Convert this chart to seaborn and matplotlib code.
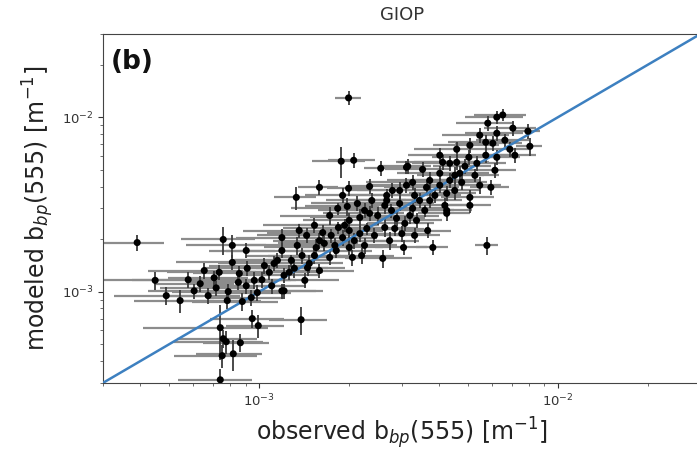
import numpy as np
import matplotlib
matplotlib.use("Agg")
import matplotlib.pyplot as plt
import seaborn as sns

# observed / modeled b_bp(555) in units of 1e-3 m^-1
obs = [0.390, 0.448, 0.488, 0.543, 0.578, 0.634, 0.674, 0.734, 0.757, 0.812,
       0.904, 0.812, 0.706, 0.717, 0.857, 0.911, 0.851, 0.904, 0.787, 0.781,
       0.877, 0.940, 1.02, 1.12, 1.08, 0.947, 0.992, 1.38, 0.740, 0.775,
       0.864, 0.751, 0.818, 0.740, 0.757, 1.21, 1.99, 1.88, 2.07, 2.55,
       3.11, 1.59, 1.99, 2.34, 5.78, 3.81, 3.04, 1.33, 6.53, 6.24,
       5.82, 7.06, 7.93, 8.05, 6.90, 6.24, 6.05, 5.73, 4.58, 5.03,
       5.73, 6.24, 6.15, 5.35, 4.58, 4.11, 3.14, 3.52, 5.96, 5.07,
       5.07, 4.34, 4.02, 4.69, 3.26, 2.79, 3.63, 4.24, 4.24, 3.72,
       2.95, 2.67, 3.26, 4.24, 3.66, 3.07, 3.36, 4.34, 1.90, 3.11,
       1.83, 1.97, 2.13, 2.67, 2.63, 2.34, 2.17, 2.00, 1.84, 1.63,
       1.44, 1.19, 1.19, 1.74, 1.90, 2.17, 2.29, 2.63, 2.88, 3.00,
       2.59, 2.00, 1.81, 2.05, 1.72, 1.55, 1.39, 1.28, 1.15, 0.962,
       1.19, 1.47, 1.45, 1.59, 1.04, 1.26, 1.34, 1.53, 1.65, 1.93,
       2.08, 2.25, 2.43, 2.49, 2.77, 2.84, 3.19, 3.44, 3.58, 3.87,
       4.02, 4.51, 4.76, 5.27, 5.47, 4.88, 3.31, 2.95, 2.38, 2.25,
       1.72, 1.53, 1.36, 1.79, 2.20, 2.73, 3.31, 6.64, 5.47, 5.07,
       7.17, 4.51, 4.02, 3.72, 4.18, 1.10, 0.985, 0.654, 0.605, 1.21,
       1.42, 1.31, 2.00, 1.59]

mod = [1.91, 1.16, 0.948, 0.888, 1.17, 1.11, 0.948, 1.29, 1.99, 1.84,
       1.72, 1.47, 1.20, 1.05, 1.27, 1.36, 1.13, 1.08, 1.00, 0.888,
       0.877, 0.924, 1.17, 1.45, 1.29, 0.700, 0.638, 0.690, 0.621, 0.516,
       0.509, 0.429, 0.440, 0.312, 0.537, 1.01, 12.9, 5.59, 5.66, 5.09,
       5.16, 3.96, 3.91, 4.01, 1.84, 1.79, 1.79, 3.47, 10.3, 10.0,
       9.24, 8.65, 8.31, 6.81, 6.55, 8.09, 7.09, 7.18, 6.55, 5.89,
       6.05, 5.89, 4.96, 5.44, 5.51, 5.51, 5.23, 5.02, 3.96, 3.47,
       3.12, 4.34, 4.77, 4.77, 4.23, 3.80, 3.96, 3.66, 2.92, 3.33,
       3.20, 3.33, 3.00, 2.81, 2.24, 2.46, 2.56, 5.44, 3.56, 4.07,
       3.00, 3.08, 3.20, 3.56, 3.12, 2.81, 2.66, 2.56, 2.33, 2.18,
       2.10, 2.04, 1.72, 2.10, 2.04, 2.15, 2.30, 2.33, 2.63, 2.15,
       1.55, 1.79, 1.72, 1.57, 1.57, 1.79, 1.61, 1.51, 1.51, 1.16,
       1.01, 1.45, 1.37, 1.32, 1.41, 1.29, 1.84, 1.61, 1.89, 2.40,
       1.96, 1.84, 2.10, 2.73, 2.92, 2.30, 2.73, 3.33, 2.92, 3.56,
       4.07, 3.80, 4.23, 4.64, 4.07, 5.23, 3.56, 3.80, 3.33, 2.92,
       2.73, 2.40, 2.24, 1.84, 1.61, 1.96, 2.10, 7.38, 7.88, 6.90,
       6.05, 4.64, 6.05, 4.34, 3.12, 1.08, 0.987, 1.32, 1.01, 1.24,
       1.16, 1.36, 2.24, 1.96]

# relative uncertainties (fraction of value)
obs_rel = [.23, .35, .33, .30, .35, .30, .28, .33, .28, .30,
           .25, .35, .30, .35, .30, .28, .33, .30, .35, .30,
           .32, .28, .30, .35, .30, .28, .22, .22, .45, .33,
           .25, .31, .25, .28, .30, .35, .10, .20, .18, .12,
           .12, .15, .15, .15, .09, .12, .20, .16, .20, .22,
           .22, .20, .10, .10, .18, .22, .25, .25, .28, .25,
           .22, .20, .18, .25, .28, .30, .20, .25, .15, .20,
           .18, .25, .28, .25, .30, .30, .28, .25, .22, .28,
           .30, .30, .28, .20, .20, .25, .22, .25, .25, .25,
           .30, .28, .30, .28, .30, .30, .32, .30, .35, .35,
           .32, .30, .35, .32, .30, .30, .28, .28, .25, .25,
           .25, .30, .32, .30, .35, .33, .35, .35, .30, .33,
           .30, .30, .33, .30, .35, .30, .33, .30, .30, .30,
           .28, .28, .28, .28, .25, .25, .25, .25, .25, .22,
           .25, .22, .22, .20, .18, .22, .28, .28, .30, .30,
           .32, .33, .35, .30, .28, .25, .22, .20, .25, .25,
           .18, .25, .22, .28, .22, .30, .30, .35, .30, .30,
           .30, .30, .30, .30]

mod_rel = [.10, .12, .12, .15, .10, .10, .10, .10, .18, .15,
           .10, .10, .10, .10, .10, .10, .10, .10, .10, .10,
           .12, .10, .10, .10, .10, .12, .15, .18, .35, .15,
           .12, .15, .20, .15, .12, .10, .09, .20, .10, .10,
           .08, .10, .10, .10, .12, .10, .10, .15, .08, .08,
           .10, .10, .10, .12, .10, .10, .10, .10, .10, .10,
           .10, .10, .10, .10, .10, .10, .10, .10, .10, .10,
           .10, .10, .10, .10, .10, .10, .10, .10, .10, .10,
           .10, .10, .10, .10, .10, .10, .10, .10, .10, .10,
           .08, .12, .10, .09, .11, .10, .12, .10, .08, .11,
           .10, .12, .10, .09, .11, .10, .08, .12, .10, .10,
           .12, .10, .09, .11, .10, .12, .10, .08, .10, .11,
           .10, .12, .10, .09, .11, .10, .12, .10, .10, .08,
           .10, .11, .10, .12, .09, .10, .11, .10, .08, .10,
           .10, .12, .10, .09, .11, .10, .10, .12, .10, .10,
           .12, .10, .09, .11, .10, .12, .10, .08, .10, .10,
           .10, .11, .10, .12, .10, .10, .11, .10, .10, .10,
           .10, .12, .10, .10]

limits = [3e-4, 3e-2]

assert len(obs) == len(mod) == len(obs_rel) == len(mod_rel)

sns.set_style("ticks")
plt.rcParams['font.family'] = ['DejaVu Sans']
plt.rcParams['mathtext.fontset'] = 'dejavusans'

x = np.array(obs) * 1e-3
y = np.array(mod) * 1e-3
xe = x * np.array(obs_rel)
ye = y * np.array(mod_rel)

fig = plt.figure(figsize=(6.97, 4.53), dpi=100)
ax = fig.add_axes([0.148, 0.155, 0.857, 0.77])
ax.set_xscale('log')
ax.set_yscale('log')

ax.errorbar(x, y, xerr=xe, fmt='none', ecolor='#8c8c8c', elinewidth=1.6, zorder=1)
ax.errorbar(x, y, yerr=ye, fmt='none', ecolor='#3c3c3c', elinewidth=1.3, zorder=2)
sns.lineplot(x=limits, y=limits, color='#3d80c0', linewidth=1.8, ax=ax, zorder=3)
sns.scatterplot(x=x, y=y, color='black', s=26, edgecolor='none', ax=ax, zorder=4)

ax.set_xlim(limits)
ax.set_ylim(limits)
ax.tick_params(axis='both', which='major', labelsize=9.5, colors='#333333')
ax.tick_params(axis='both', which='minor', colors='#555555')
for s in ax.spines.values():
    s.set_color('#444444')
ax.set_xlabel(r'observed b$_{bp}$(555) [m$^{-1}$]', fontsize=17, color='#222222')
ax.set_ylabel(r'modeled b$_{bp}$(555) [m$^{-1}$]', fontsize=17, color='#222222')
ax.set_title('GIOP', fontsize=13, pad=10, color='#333333')
ax.text(0.012, 0.958, '(b)', transform=ax.transAxes, fontsize=19,
        fontweight='bold', va='top', ha='left', color='#111111')

fig.savefig('out.png', dpi=100)
